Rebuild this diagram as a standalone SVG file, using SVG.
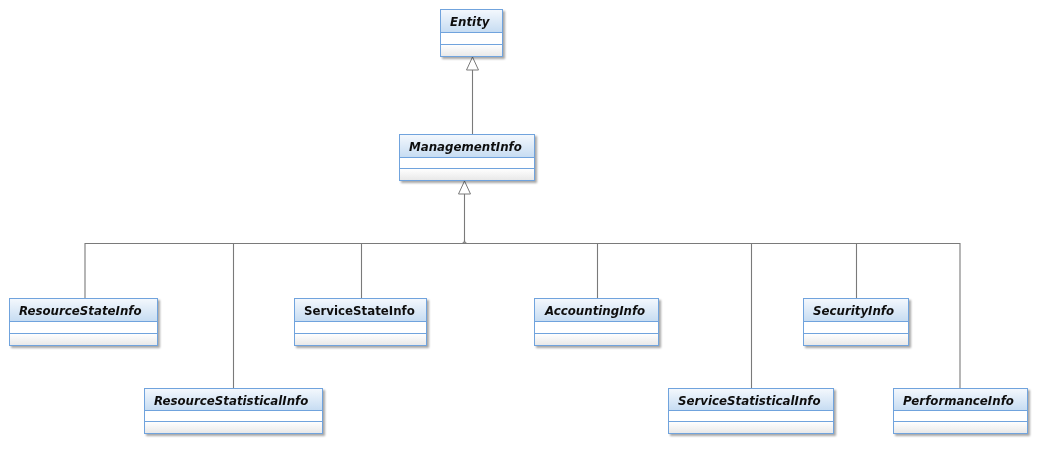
<svg xmlns="http://www.w3.org/2000/svg" width="1040" height="450" viewBox="0 0 1040 450">
  <defs>
    <linearGradient id="hdr" x1="0" y1="0" x2="0" y2="1">
      <stop offset="0" stop-color="#f4f8fd"/>
      <stop offset="1" stop-color="#c6dcf2"/>
    </linearGradient>
    <linearGradient id="ops" x1="0" y1="0" x2="0" y2="1">
      <stop offset="0" stop-color="#ffffff"/>
      <stop offset="1" stop-color="#e8e8e8"/>
    </linearGradient>
    <filter id="shadow" x="-10%" y="-10%" width="130%" height="140%">
      <feGaussianBlur in="SourceAlpha" stdDeviation="1.2"/>
      <feOffset dx="2" dy="2" result="b"/>
      <feComponentTransfer><feFuncA type="linear" slope="0.35"/></feComponentTransfer>
      <feMerge><feMergeNode/><feMergeNode in="SourceGraphic"/></feMerge>
    </filter>
  </defs>
  <style>
    .box { filter: url(#shadow); }
    .hdr { fill: url(#hdr); stroke: #6fa3dd; stroke-width: 1; }
    .att { fill: #ffffff; stroke: #6fa3dd; stroke-width: 1; }
    .ops { fill: url(#ops); stroke: #6fa3dd; stroke-width: 1; }
    .name { font-family: "DejaVu Sans", Verdana, sans-serif; font-size: 11.8px; font-weight: bold; font-style: italic; fill: #111; }
    .concrete { font-style: normal; }
    .conn { fill: none; stroke: #7a7a7a; stroke-width: 1.1; }
    .tri { fill: #ffffff; stroke: #7a7a7a; stroke-width: 1; }
  </style>
  <rect width="1040" height="450" fill="#ffffff"/>

  <!-- generalization connectors -->
  <g id="connectors">
    <path class="conn" d="M472.5 70 V134"/>
    <polygon class="tri" points="472.5,57 466.5,70 478.5,70"/>
    <path class="conn" d="M464.5 194 V240 Q464.5 243.5 461.5 243.5 M85 298 V243.5 H960 V388 M233.5 243.5 V388 M361.5 243.5 V298 M597.5 243.5 V298 M751.5 243.5 V388 M856.5 243.5 V298 M464.5 240 Q464.5 243.5 467.5 243.5"/>
    <polygon class="tri" points="464.5,181 458.5,194 470.5,194"/>
  </g>

  <g id="Entity" class="box">
    <rect class="hdr" x="440.5" y="9.5" width="62" height="23"/>
    <rect class="att" x="440.5" y="32.5" width="62" height="12"/>
    <rect class="ops" x="440.5" y="44.5" width="62" height="12"/>
    <text class="name" x="450" y="26">Entity</text>
  </g>

  <g id="ManagementInfo" class="box">
    <rect class="hdr" x="399.5" y="134.5" width="135" height="23"/>
    <rect class="att" x="399.5" y="157.5" width="135" height="11"/>
    <rect class="ops" x="399.5" y="168.5" width="135" height="12"/>
    <text class="name" x="409" y="151">ManagementInfo</text>
  </g>

  <g id="ResourceStateInfo" class="box">
    <rect class="hdr" x="9.5" y="298.5" width="148" height="23"/>
    <rect class="att" x="9.5" y="321.5" width="148" height="12"/>
    <rect class="ops" x="9.5" y="333.5" width="148" height="12"/>
    <text class="name" x="19" y="315">ResourceStateInfo</text>
  </g>

  <g id="ServiceStateInfo" class="box">
    <rect class="hdr" x="294.5" y="298.5" width="132" height="23"/>
    <rect class="att" x="294.5" y="321.5" width="132" height="12"/>
    <rect class="ops" x="294.5" y="333.5" width="132" height="12"/>
    <text class="name concrete" x="304" y="315">ServiceStateInfo</text>
  </g>

  <g id="AccountingInfo" class="box">
    <rect class="hdr" x="534.5" y="298.5" width="124" height="23"/>
    <rect class="att" x="534.5" y="321.5" width="124" height="12"/>
    <rect class="ops" x="534.5" y="333.5" width="124" height="12"/>
    <text class="name" x="545" y="315">AccountingInfo</text>
  </g>

  <g id="SecurityInfo" class="box">
    <rect class="hdr" x="803.5" y="298.5" width="105" height="23"/>
    <rect class="att" x="803.5" y="321.5" width="105" height="12"/>
    <rect class="ops" x="803.5" y="333.5" width="105" height="12"/>
    <text class="name" x="813" y="315">SecurityInfo</text>
  </g>

  <g id="ResourceStatisticalInfo" class="box">
    <rect class="hdr" x="144.5" y="388.5" width="178" height="22"/>
    <rect class="att" x="144.5" y="410.5" width="178" height="11"/>
    <rect class="ops" x="144.5" y="421.5" width="178" height="12"/>
    <text class="name" x="154" y="405">ResourceStatisticalInfo</text>
  </g>

  <g id="ServiceStatisticalInfo" class="box">
    <rect class="hdr" x="668.5" y="388.5" width="165" height="22"/>
    <rect class="att" x="668.5" y="410.5" width="165" height="11"/>
    <rect class="ops" x="668.5" y="421.5" width="165" height="12"/>
    <text class="name" x="678" y="405">ServiceStatisticalInfo</text>
  </g>

  <g id="PerformanceInfo" class="box">
    <rect class="hdr" x="893.5" y="388.5" width="134" height="22"/>
    <rect class="att" x="893.5" y="410.5" width="134" height="11"/>
    <rect class="ops" x="893.5" y="421.5" width="134" height="12"/>
    <text class="name" x="903" y="405">PerformanceInfo</text>
  </g>
</svg>
